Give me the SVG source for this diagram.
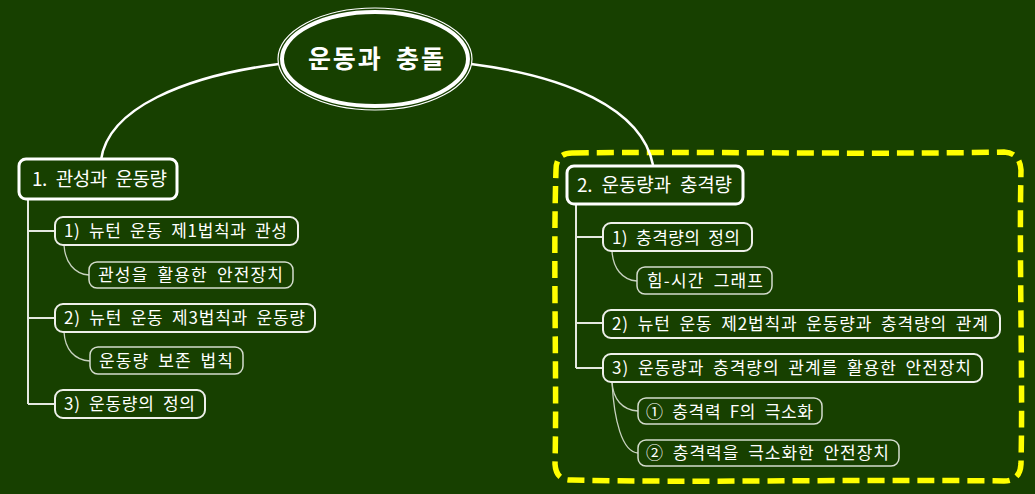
<svg xmlns="http://www.w3.org/2000/svg" width="1035" height="494" viewBox="0 0 1035 494">
<style>
text{font-family:"Malgun Gothic","Noto Sans CJK KR",sans-serif;fill:#ffffff;}
.t0{font-size:25px;font-weight:bold;word-spacing:6px;}
.t1{font-size:19px;word-spacing:5px;}
.t2{font-size:17px;word-spacing:4px;}
.b1{fill:#174000;stroke:#ffffff;stroke-width:3;}
.b2{fill:#174000;stroke:#eef0ea;stroke-width:2;}
.b3{fill:#174000;stroke:#d4dccd;stroke-width:1.5;}
.c1{fill:none;stroke:#ffffff;stroke-width:2.5;}
.c2{fill:none;stroke:#e4e8e0;stroke-width:2;}
.c3{fill:none;stroke:#c8d2c0;stroke-width:1.3;}
</style>
<rect width="1035" height="494" fill="#174000"/>
<path d="M572,153 C700,151 850,155 1004,152 Q1020,153 1021,170 C1019,260 1023,380 1021,464 Q1020,481 1004,481 C850,479 700,483 572,480 Q556,481 555,464 C557,380 553,260 556,170 Q556,153 572,153 Z" fill="none" stroke="#ffff00" stroke-width="5.5" stroke-dasharray="17 8"/>
<g id="connectors">
<path class="c1" d="M279,64 C185,76 108,108 101,160"/>
<path class="c1" d="M471,64 C565,76 642,108 653,165"/>
<path class="c2" d="M28,199 L28,404 M28,231 L55,231 M28,318 L55,318 M28,404 L55,404"/>
<path class="c3" d="M64,245 C65,262 74,274 89,275"/>
<path class="c3" d="M64,332 C65,349 74,360 90,361"/>
<path class="c2" d="M576,204 L576,368 M576,237 L603,237 M576,323 L603,323 M576,368 L603,368"/>
<path class="c3" d="M612,251 C613,268 622,280 637,281"/>
<path class="c3" d="M612,382 C613,399 622,410 638,411"/>
<path class="c3" d="M612,382 C614,420 622,452 638,453"/>
</g>
<g id="root">
<ellipse cx="375" cy="59" rx="97" ry="51" fill="none" stroke="#ffffff" stroke-width="1.2"/>
<ellipse cx="375" cy="59" rx="93" ry="47" fill="#174000" stroke="#ffffff" stroke-width="4"/>
<text class="t0" x="376" y="68" text-anchor="middle" textLength="136" lengthAdjust="spacing">운동과 충돌</text>
</g>
<g id="n1">
<rect class="b1" x="19" y="159" width="158" height="40" rx="7"/>
<text class="t1" x="32" y="186" textLength="135" lengthAdjust="spacing">1. 관성과 운동량</text>
</g>
<g id="n1-1">
<rect class="b2" x="55" y="217" width="243" height="28" rx="8"/>
<text class="t2" x="64" y="237" textLength="223" lengthAdjust="spacing">1) 뉴턴 운동 제1법칙과 관성</text>
</g>
<g id="n1-1-1">
<rect class="b3" x="89" y="262" width="204" height="26" rx="8"/>
<text class="t2" x="98" y="281" textLength="185" lengthAdjust="spacing">관성을 활용한 안전장치</text>
</g>
<g id="n1-2">
<rect class="b2" x="55" y="304" width="260" height="28" rx="8"/>
<text class="t2" x="64" y="324" textLength="241" lengthAdjust="spacing">2) 뉴턴 운동 제3법칙과 운동량</text>
</g>
<g id="n1-2-1">
<rect class="b3" x="90" y="347" width="153" height="27" rx="8"/>
<text class="t2" x="99" y="367" textLength="134" lengthAdjust="spacing">운동량 보존 법칙</text>
</g>
<g id="n1-3">
<rect class="b2" x="55" y="390" width="150" height="28" rx="8"/>
<text class="t2" x="64" y="410" textLength="131" lengthAdjust="spacing">3) 운동량의 정의</text>
</g>
<g id="n2">
<rect class="b1" x="567" y="166" width="176" height="38" rx="7"/>
<text class="t1" x="577" y="192" textLength="155" lengthAdjust="spacing">2. 운동량과 충격량</text>
</g>
<g id="n2-1">
<rect class="b2" x="603" y="223" width="149" height="28" rx="8"/>
<text class="t2" x="612" y="244" textLength="128" lengthAdjust="spacing">1) 충격량의 정의</text>
</g>
<g id="n2-1-1">
<rect class="b3" x="637" y="267" width="135" height="27" rx="8"/>
<text class="t2" x="647" y="287" textLength="116" lengthAdjust="spacing">힘-시간 그래프</text>
</g>
<g id="n2-2">
<rect class="b2" x="603" y="310" width="397" height="28" rx="8"/>
<text class="t2" x="612" y="330" textLength="376" lengthAdjust="spacing">2) 뉴턴 운동 제2법칙과 운동량과 충격량의 관계</text>
</g>
<g id="n2-3">
<rect class="b2" x="603" y="354" width="379" height="28" rx="8"/>
<text class="t2" x="612" y="374" textLength="359" lengthAdjust="spacing">3) 운동량과 충격량의 관계를 활용한 안전장치</text>
</g>
<g id="n2-3-1">
<rect class="b3" x="638" y="398" width="184" height="26" rx="8"/>
<text class="t2" x="646" y="418" textLength="167" lengthAdjust="spacing">① 충격력 F의 극소화</text>
</g>
<g id="n2-3-2">
<rect class="b3" x="638" y="440" width="261" height="26" rx="8"/>
<text class="t2" x="646" y="459" textLength="243" lengthAdjust="spacing">② 충격력을 극소화한 안전장치</text>
</g>
</svg>
